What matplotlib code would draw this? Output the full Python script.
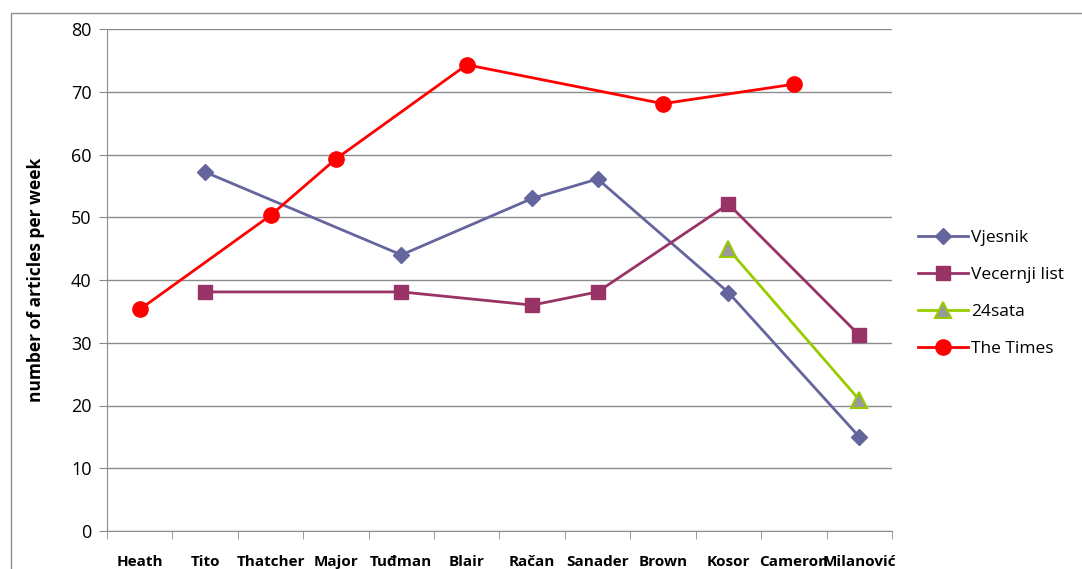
import matplotlib
matplotlib.use("Agg")
import matplotlib.pyplot as plt
from matplotlib.patches import Rectangle

plt.rcParams['font.family'] = ['Open Sans', 'DejaVu Sans']

# leaders along the x axis
leaders = ["Heath", "Tito", "Thatcher", "Major", "Tuđman", "Blair",
           "Račan", "Sanader", "Brown", "Kosor", "Cameron", "Milanović"]

# articles per week, None where a paper has no value
vjesnik = [None, 57.2, None, None, 44.0, None, 53.0, 56.1, None, 38.0, None, 15.0]
vecernji = [None, 38.1, None, None, 38.1, None, 36.0, 38.1, None, 52.1, None, 31.2]
sata24 = [None, None, None, None, None, None, None, None, None, 44.9, None, 20.9]
times = [35.3, None, 50.3, 59.3, None, 74.3, None, None, 68.1, None, 71.2, None]

fig = plt.figure(figsize=(10.82, 5.69), dpi=100)
ax = fig.add_axes([107 / 1082, 38 / 569, 785 / 1082, 502 / 569])

# chart border
fig.patches.append(Rectangle((11 / 1082, -0.02), 1.2, (569 - 13) / 569 + 0.02,
                             transform=fig.transFigure, fill=False,
                             edgecolor="#8c8c8c", linewidth=1.0))


def plot_series(vals, **kw):
    # Excel style: skip empty cells but connect the line through them
    xs = [i for i, v in enumerate(vals) if v is not None]
    ys = [v for v in vals if v is not None]
    ax.plot(xs, ys, linewidth=2.0, **kw)


plot_series(vjesnik, color="#65659e", marker="D", markersize=8.5,
            label="Vjesnik", zorder=3)
plot_series(vecernji, color="#993366", marker="s", markersize=10,
            label="Vecernji list", zorder=3)
plot_series(sata24, color="#99cc00", marker="^", markersize=11,
            markerfacecolor="#999999", markeredgecolor="#99cc00",
            markeredgewidth=1.5, label="24sata", zorder=3)
plot_series(times, color="#ff0000", marker="o", markersize=11,
            label="The Times", zorder=3)

ax.set_xlim(-0.5, len(leaders) - 0.5)
ax.set_ylim(0, 80)
ax.set_yticks(range(0, 81, 10))
ax.yaxis.grid(True, color="#8c8c8c", linewidth=1.0)
ax.set_axisbelow(True)

ax.set_xticks(range(len(leaders)))
ax.set_xticklabels(leaders, fontweight="bold", fontsize=11)
ax.set_xticks([i - 0.5 for i in range(len(leaders) + 1)], minor=True)
ax.tick_params(axis="x", which="major", length=0, pad=17)
ax.tick_params(axis="x", which="minor", length=6, color="#8c8c8c")
ax.tick_params(axis="y", length=6, color="#8c8c8c", labelsize=13, pad=5)

for side in ("top", "right"):
    ax.spines[side].set_visible(False)
for side in ("left", "bottom"):
    ax.spines[side].set_color("#8c8c8c")

ax.set_ylabel("number of articles per week", fontweight="bold", fontsize=12.5,
              labelpad=19)

ax.legend(loc="center left", bbox_to_anchor=(1.013, 0.474), frameon=False,
          fontsize=12.5, handlelength=2.9, labelspacing=1.2, handletextpad=0.15)

fig.savefig("out.png", dpi=100)
